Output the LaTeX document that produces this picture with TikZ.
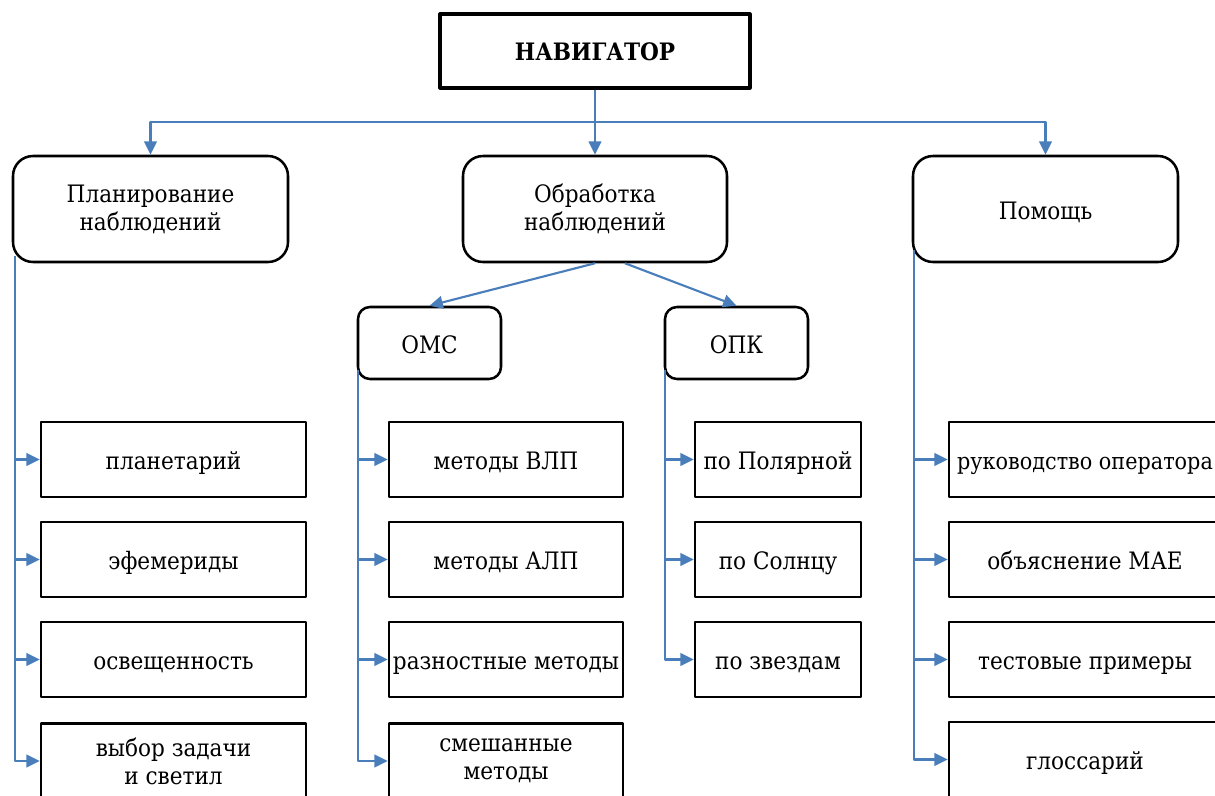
\documentclass[tikz,border=0pt]{standalone}
\usepackage{fontspec}
\setmainfont{DejaVu Serif Condensed}
\usetikzlibrary{arrows.meta}
\definecolor{linkblue}{HTML}{4A7EBB}
\newcommand{\px}{0.75pt}
\tikzset{
  box/.style={draw, line width=1.9pt, align=center, inner sep=0pt,
    font=\fontsize{18}{21}\selectfont},
  oneline/.style={text height=19pt, text depth=4pt},
  topbox/.style={box, line width=2.4pt, minimum width=310*\px, minimum height=74*\px},
  mainbox/.style={box, rounded corners=20*\px, minimum width=272*\px, minimum height=106*\px},
  subbox/.style={box, oneline, rounded corners=12*\px, minimum width=143*\px, minimum height=72*\px},
  leafbox/.style={box, minimum height=75*\px},
  link/.style={draw=linkblue, line width=1.6pt}
}
\begin{document}
\begin{tikzpicture}[x=\px, y=-\px, >={Triangle[length=10pt,width=9.5pt]}, line join=round]
  \useasboundingbox (0,0) rectangle (1215,796);
  \clip (0,0) rectangle (1215,796);
  % верхний уровень
  \node[topbox, text height=17pt, text depth=3pt] (nav) at (595,51) {\bfseries НАВИГАТОР};
  \node[mainbox, minimum width=275*\px] (plan) at (150.5,209) {Планирование\\наблюдений};
  \node[mainbox, minimum width=264*\px] (proc) at (595,209) {Обработка\\наблюдений};
  \node[mainbox, oneline, minimum width=265*\px] (help) at (1045.5,209) {Помощь};
  \node[subbox] (omc) at (429.5,343) {ОМС};
  \node[subbox] (opk) at (736.5,343) {ОПК};
  % разделы
  \foreach \t [count=\i] in {планетарий, эфемериды, освещенность}
    \node[leafbox, oneline, minimum width=265*\px] (a\i) at (173.5,{359.5+100*\i}) {\t};
  \node[leafbox, minimum width=265*\px] (a4) at (173.5,761) {выбор задачи\\и светил};
  \foreach \t [count=\i] in {методы ВЛП, методы АЛП, разностные методы}
    \node[leafbox, oneline, minimum width=234*\px] (b\i) at (506,{359.5+100*\i}) {\t};
  \node[leafbox, minimum width=234*\px] (b4) at (506,761) {смешанные\\методы};
  \foreach \t [count=\i] in {по Полярной, по Солнцу, по звездам}
    \node[leafbox, oneline, minimum width=166*\px] (c\i) at (778,{359.5+100*\i}) {\t};
  \foreach \t [count=\i] in {{\fontsize{17.3}{21}\selectfont руководство оператора}, объяснение МАЕ, тестовые примеры, глоссарий}
    \node[leafbox, oneline, minimum width=272*\px] (d\i) at (1085,{359.5+100*\i}) {\t};
  % связи
  \coordinate (hub) at (595,122);
  \draw[link,->] (nav.south) -- (proc.north);
  \draw[link,->] (hub) -| (plan.north);
  \draw[link,->] (hub) -| (help.north);
  \draw[link,->] (proc.south) -- (omc.north);
  \draw[link,->] ([xshift=30*\px]proc.south) -- (opk.north);
  \coordinate (pls) at (15,256);
  \coordinate (oms) at (358,370);
  \coordinate (ops) at (665,370);
  \coordinate (hls) at (914,250);
  \draw[link,->] (pls) |- (a4.west);
  \draw[link,->] (oms) |- (b4.west);
  \draw[link,->] (ops) |- (c3.west);
  \draw[link,->] (hls) |- (d4.west);
  \foreach \i in {1,2,3} {
    \draw[link,->] (pls |- a\i.west) -- (a\i.west);
    \draw[link,->] (oms |- b\i.west) -- (b\i.west);
    \draw[link,->] (hls |- d\i.west) -- (d\i.west);
  }
  \foreach \i in {1,2}
    \draw[link,->] (ops |- c\i.west) -- (c\i.west);
\end{tikzpicture}
\end{document}
